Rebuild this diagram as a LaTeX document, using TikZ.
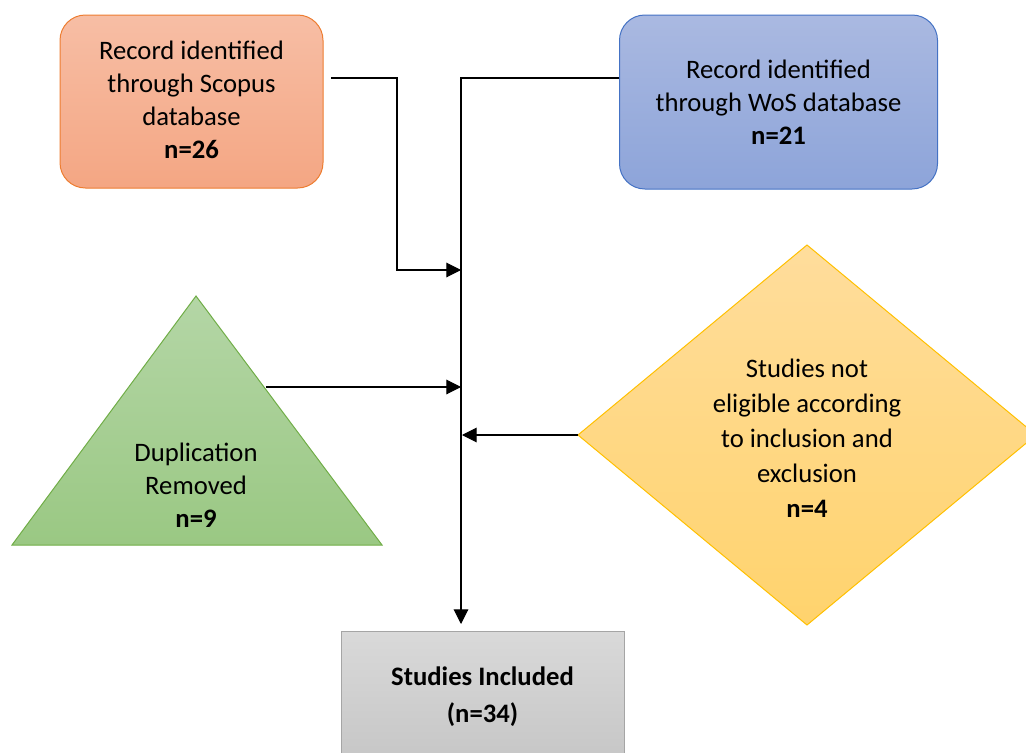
\documentclass[tikz,border=0pt]{standalone}
\usepackage{fontspec}
\setmainfont{Carlito}
\usetikzlibrary{arrows.meta,calc}
\definecolor{orTop}{HTML}{F7BEA5}
\definecolor{orBot}{HTML}{F4A683}
\definecolor{orLine}{HTML}{ED7D31}
\definecolor{blTop}{HTML}{AAB9E1}
\definecolor{blBot}{HTML}{8DA4D9}
\definecolor{blLine}{HTML}{4472C4}
\definecolor{grTop}{HTML}{B4D6A6}
\definecolor{grBot}{HTML}{9AC883}
\definecolor{grLine}{HTML}{70AD47}
\definecolor{yeTop}{HTML}{FFDD9C}
\definecolor{yeBot}{HTML}{FFD36D}
\definecolor{yeLine}{HTML}{FFC000}
\definecolor{gyTop}{HTML}{D9D9D9}
\definecolor{gyBot}{HTML}{C6C6C6}
\definecolor{gyLine}{HTML}{A5A5A5}
\begin{document}
\begin{tikzpicture}[x=0.75pt,y=-0.75pt,
  txt/.style={font=\fontsize{20pt}{24.75pt}\selectfont, align=center, text=black, inner sep=0pt},
  conn/.style={draw=black, line width=0.8pt},
  arr/.style={conn, -{Triangle[length=11pt,width=11pt]}},
  rbox/.style={rectangle, rounded corners=19pt, line width=0.75pt, inner sep=0pt}]
\useasboundingbox (0,0) rectangle (1026,753);
\clip (0,0) rectangle (1026,753);

% Scopus box
\node[rbox, draw=orLine, top color=orTop, bottom color=orBot,
      minimum width=263*0.75pt, minimum height=173*0.75pt] (scopus) at (191.5,101.5) {};
\node[txt] (scopustxt) at (191.5,100) {Record identified\\through Scopus\\database\\\textbf{n=26}};

% WoS box
\node[rbox, draw=blLine, top color=blTop, bottom color=blBot,
      minimum width=318*0.75pt, minimum height=174*0.75pt] (wos) at (778.5,102) {};
\node[txt] (wostxt) at (778.5,102.5) {Record identified\\through WoS database\\\textbf{n=21}};

% Triangle
\coordinate (triTop) at (196,296);
\coordinate (triR) at (382,545);
\coordinate (triL) at (12,545);
\path[draw=grLine, line width=0.75pt, top color=grTop, bottom color=grBot] (triTop) -- (triR) -- (triL) -- cycle;
\node[txt] (tritxt) at (196,485) {Duplication\\Removed\\\textbf{n=9}};
\coordinate (triOut) at (266,387);

% Diamond
\coordinate (dTop) at (807,245);
\coordinate (dRight) at (1036,435);
\coordinate (dBot) at (807,625);
\coordinate (dLeft) at (578,435);
\path[draw=yeLine, line width=0.75pt, top color=yeTop, bottom color=yeBot] (dTop) -- (dRight) -- (dBot) -- (dLeft) -- cycle;
\node[txt, font=\fontsize{20pt}{26.25pt}\selectfont] (dtxt) at (807,438) {Studies not\\eligible according\\to inclusion and\\exclusion\\\textbf{n=4}};

% Studies included
\node[rectangle, draw=gyLine, line width=0.75pt, top color=gyTop, bottom color=gyBot,
      minimum width=283*0.75pt, minimum height=132*0.75pt, inner sep=0pt] (incl) at (482.5,697) {};
\node[txt, font=\fontsize{20pt}{27.75pt}\selectfont\bfseries] (incltxt) at (482.5,697) {Studies Included\\(n=34)};

% Connectors
\coordinate (spine) at (461,78);
\coordinate (sOut) at (331,78);
\coordinate (sTurn) at (397,78);
\coordinate (sLow) at (397,270);
\coordinate (sIn) at (461,270);
\coordinate (tIn) at (461,387);
\coordinate (dIn) at (462,435);
\coordinate (inclIn) at (461,624);

\draw[arr] (wos.west |- spine) -- (spine) -- (inclIn);
\draw[arr] (sOut) -- (sTurn) -- (sLow) -- (sIn);
\draw[arr] (triOut) -- (tIn);
\draw[arr] (dLeft) -- (dIn);
\end{tikzpicture}
\end{document}
